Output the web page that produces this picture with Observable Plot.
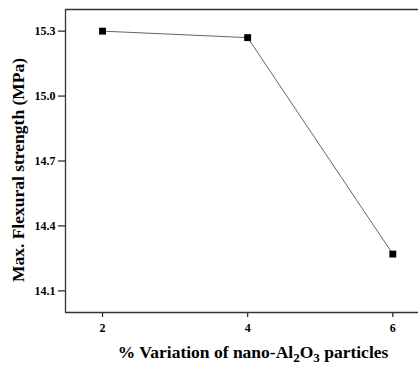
<!DOCTYPE html>
<html>
<head>
<meta charset="utf-8">
<script src="https://cdn.jsdelivr.net/npm/d3@7"></script>
<script src="https://cdn.jsdelivr.net/npm/@observablehq/plot@0.6"></script>
<style>
  html, body { margin: 0; padding: 0; background: #fff; overflow: hidden; }
  svg { display: block; }
</style>
</head>
<body>
<div id="chart"></div>
<script>
const variation = [2, 4, 6];
const strength = [15.30, 15.27, 14.27];
const xTicks = [2, 4, 6];
const yTicks = [14.1, 14.4, 14.7, 15.0, 15.3];

const data = variation.map((v, i) => ({x: v, y: strength[i]}));
const font = "'Liberation Serif', 'Times New Roman', serif";

const plot = Plot.plot({
  width: 418,
  height: 365,
  marginLeft: 65,
  marginRight: 0,
  marginTop: 9,
  marginBottom: 53,
  style: {fontFamily: font, fontWeight: "bold", fontSize: "12px", color: "#000", background: "#fff"},
  x: {domain: [1.49, 6.354], ticks: xTicks, tickFormat: d => d, label: null},
  y: {domain: [14.0, 15.4], ticks: yTicks, tickFormat: d => d.toFixed(1), label: null},
  marks: [
    Plot.axisX({ticks: xTicks, tickSize: 5, tickPadding: 6, tickFormat: d => d, label: null, stroke: "#222", strokeWidth: 1.2}),
    Plot.axisY({ticks: yTicks, tickSize: 7, tickPadding: 3, tickFormat: d => d.toFixed(1), label: null, stroke: "#222", strokeWidth: 1.2}),
    Plot.ruleY([14.0, 15.4], {stroke: "#333", strokeWidth: 1.3}),
    Plot.ruleX([1.49], {stroke: "#333", strokeWidth: 1.3}),
    Plot.line(data, {x: "x", y: "y", stroke: "#666", strokeWidth: 1}),
    Plot.dot(data, {x: "x", y: "y", symbol: "square", r: 3.9, fill: "#000", stroke: "none"})
  ]
});

document.getElementById("chart").appendChild(plot);

const svg = d3.select(plot);
// X axis title with subscripts
const xt = svg.append("text")
  .attr("x", 253)
  .attr("y", 358)
  .attr("text-anchor", "middle")
  .attr("font-family", font)
  .attr("font-weight", "bold")
  .attr("font-size", "17.5px")
  .attr("fill", "#000");
xt.append("tspan").text("% Variation of nano-Al");
xt.append("tspan").attr("dy", 4).attr("font-size", "13px").text("2");
xt.append("tspan").attr("dy", -4).text("O");
xt.append("tspan").attr("dy", 4).attr("font-size", "13px").text("3");
xt.append("tspan").attr("dy", -4).text(" particles");

// Y axis title
svg.append("text")
  .attr("transform", "translate(24,170) rotate(-90)")
  .attr("text-anchor", "middle")
  .attr("font-family", font)
  .attr("font-weight", "bold")
  .attr("font-size", "17.5px")
  .attr("fill", "#000")
  .text("Max. Flexural strength (MPa)");
</script>
</body>
</html>
